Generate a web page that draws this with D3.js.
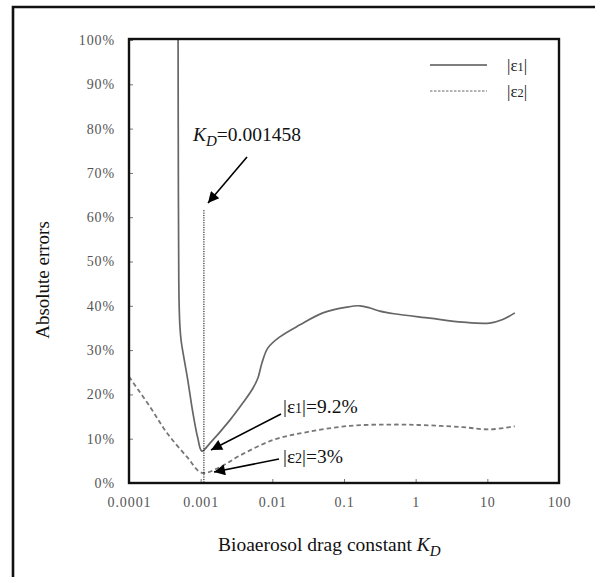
<!DOCTYPE html>
<html><head><meta charset="utf-8">
<script src="https://cdn.jsdelivr.net/npm/d3@7"></script>
<style>body{margin:0;background:#fff;} svg{display:block;}</style>
</head><body><svg id="c" width="595" height="577"></svg>
<script>
// ---- data ----
const xTicks = [0.0001, 0.001, 0.01, 0.1, 1, 10, 100];
const xTickLabels = ["0.0001", "0.001", "0.01", "0.1", "1", "10", "100"];
const yTicks = [0, 10, 20, 30, 40, 50, 60, 70, 80, 90, 100];
const yTickLabels = ["0%", "10%", "20%", "30%", "40%", "50%", "60%", "70%", "80%", "90%", "100%"];

const e1K = [0.000484, 0.000489, 0.000495, 0.000502, 0.000515, 0.000535, 0.000566, 0.00066, 0.00078, 0.00091, 0.00104, 0.00135, 0.00256, 0.00389, 0.00536, 0.00629, 0.00716, 0.00868, 0.01277, 0.0243, 0.0508, 0.1097, 0.1667, 0.23, 0.317, 0.5, 1.58, 4.55, 10.8, 16.4, 24.2];
const e1V = [100, 65, 46, 39.5, 35, 32, 29.5, 23.3, 15.8, 10.2, 7.2, 9.0, 14.2, 18.1, 21.4, 23.7, 27.1, 30.5, 33.0, 35.7, 38.4, 39.7, 40.0, 39.5, 38.8, 38.2, 37.2, 36.3, 36.1, 36.9, 38.4];

const e2K = [0.0001, 0.000196, 0.000339, 0.000644, 0.00104, 0.00186, 0.00353, 0.0102, 0.0304, 0.121, 0.547, 1.58, 4.55, 10.8, 24.2];
const e2V = [24.0, 17.2, 11.3, 5.9, 2.3, 3.6, 6.2, 9.7, 11.5, 12.9, 13.2, 13.0, 12.6, 12.1, 12.8];

const seriesNames = ["|ε1|", "|ε2|"];
const refK = 0.00111;      // drawn position of the K_D reference line
const refTop = 61.6;       // top of reference line (%)
const refLabel = "=0.001458";
const e1Label = "=9.2%";
const e2Label = "=3%";
const xTitle = "Bioaerosol drag constant ";
const yTitle = "Absolute errors";

// ---- layout ----
const svg = d3.select("#c");
const L = 129, R = 559, T = 40, B = 483;
const x = d3.scaleLog().domain([0.0001, 100]).range([L, R]);
const y = d3.scaleLinear().domain([0, 100]).range([B, T]);
const serif = "'Liberation Serif', 'DejaVu Serif', serif";

// outer frame (left + top)
svg.append("path").attr("d", `M13,577 L13,7 L595,7`).attr("fill", "none").attr("stroke", "#111").attr("stroke-width", 2.6);

svg.append("defs").append("clipPath").attr("id", "clip")
  .append("rect").attr("x", L).attr("y", T - 1).attr("width", R - L).attr("height", B - T + 1);
const mk = svg.select("defs").append("marker").attr("id", "arr")
  .attr("viewBox", "0 0 10 10").attr("refX", 10).attr("refY", 5)
  .attr("markerWidth", 13).attr("markerHeight", 11).attr("markerUnits", "userSpaceOnUse")
  .attr("orient", "auto");
mk.append("path").attr("d", "M0,0 L10,5 L0,10 Z").attr("fill", "#000");

// axes
const ya = svg.append("g").attr("transform", `translate(${L},0)`)
  .call(d3.axisLeft(y).tickValues(yTicks).tickFormat((d, i) => yTickLabels[i]).tickSize(-4).tickPadding(14));
const xa = svg.append("g").attr("transform", `translate(0,${B})`)
  .call(d3.axisBottom(x).tickValues(xTicks).tickFormat((d, i) => xTickLabels[i]).tickSize(-4).tickPadding(14));
[ya, xa].forEach(g => {
  g.select(".domain").remove();
  g.selectAll(".tick line").attr("stroke", "#777").attr("stroke-width", 1);
  g.selectAll(".tick text").attr("font-family", serif).attr("font-size", 14).attr("letter-spacing", 0.9).attr("fill", "#555");
});

// data lines
const line = d3.line().x(d => x(d[0])).y(d => y(d[1])).curve(d3.curveCatmullRom.alpha(0.5));
const g = svg.append("g").attr("clip-path", "url(#clip)");
g.append("path").datum(e1K.map((k, i) => [k, e1V[i]])).attr("d", line)
  .attr("fill", "none").attr("stroke", "#666").attr("stroke-width", 1.7);
g.append("path").datum(e2K.map((k, i) => [k, e2V[i]])).attr("d", line)
  .attr("fill", "none").attr("stroke", "#777").attr("stroke-width", 1.8).attr("stroke-dasharray", "4.5,3");

// reference dotted line
svg.append("line").attr("x1", x(refK)).attr("x2", x(refK)).attr("y1", y(refTop)).attr("y2", y(0))
  .attr("stroke", "#000").attr("stroke-width", 1).attr("stroke-dasharray", "1.2,1.2");

// plot frame
svg.append("rect").attr("x", L).attr("y", T - 1).attr("width", R - L).attr("height", B - T + 1)
  .attr("fill", "none").attr("stroke", "#111").attr("stroke-width", 2.4);

// legend
const lg = svg.append("g");
lg.append("line").attr("x1", 430).attr("x2", 487).attr("y1", 65).attr("y2", 65).attr("stroke", "#000").attr("stroke-width", 1.2);
lg.append("line").attr("x1", 430).attr("x2", 487).attr("y1", 91).attr("y2", 91).attr("stroke", "#666").attr("stroke-width", 1).attr("stroke-dasharray", "2.5,1.5");
function epsText(sel, idx, tail) {
  sel.append("tspan").text("|ε");
  sel.append("tspan").attr("font-size", "0.72em").text(String(idx));
  sel.append("tspan").text("|" + (tail || ""));
}
[0, 1].forEach(i => {
  const t = lg.append("text").attr("x", 507).attr("y", 71 + i * 26).attr("font-family", serif).attr("font-size", 17).attr("fill", "#222");
  epsText(t, i + 1);
});

// annotations
const ann = svg.append("g").attr("font-family", serif).attr("fill", "#111");
const t1 = ann.append("text").attr("x", 193).attr("y", 141).attr("font-size", 19.5);
t1.append("tspan").attr("font-style", "italic").text("K");
t1.append("tspan").attr("font-style", "italic").attr("font-size", 15).attr("dy", 5).text("D");
t1.append("tspan").attr("dy", -5).text(refLabel);
ann.append("line").attr("x1", 247).attr("y1", 157).attr("x2", 208).attr("y2", 203)
  .attr("stroke", "#000").attr("stroke-width", 1.6).attr("marker-end", "url(#arr)");

const t2 = ann.append("text").attr("x", 283).attr("y", 413).attr("font-size", 19.5);
epsText(t2, 1, e1Label);
ann.append("line").attr("x1", 281).attr("y1", 414).attr("x2", 211).attr("y2", 450)
  .attr("stroke", "#000").attr("stroke-width", 1.6).attr("marker-end", "url(#arr)");

const t3 = ann.append("text").attr("x", 283).attr("y", 463).attr("font-size", 19.5);
epsText(t3, 2, e2Label);
ann.append("line").attr("x1", 279).attr("y1", 459).attr("x2", 214).attr("y2", 472)
  .attr("stroke", "#000").attr("stroke-width", 1.6).attr("marker-end", "url(#arr)");

// axis titles
const xt = svg.append("text").attr("x", 218).attr("y", 551).attr("font-family", serif).attr("font-size", 19.5).attr("fill", "#111");
xt.append("tspan").text(xTitle);
xt.append("tspan").attr("font-style", "italic").text("K");
xt.append("tspan").attr("font-style", "italic").attr("font-size", 15).attr("dy", 5).text("D");
svg.append("text").attr("transform", "translate(49,280) rotate(-90)").attr("text-anchor", "middle")
  .attr("font-family", serif).attr("font-size", 19).attr("fill", "#111").text(yTitle);
</script></body></html>
